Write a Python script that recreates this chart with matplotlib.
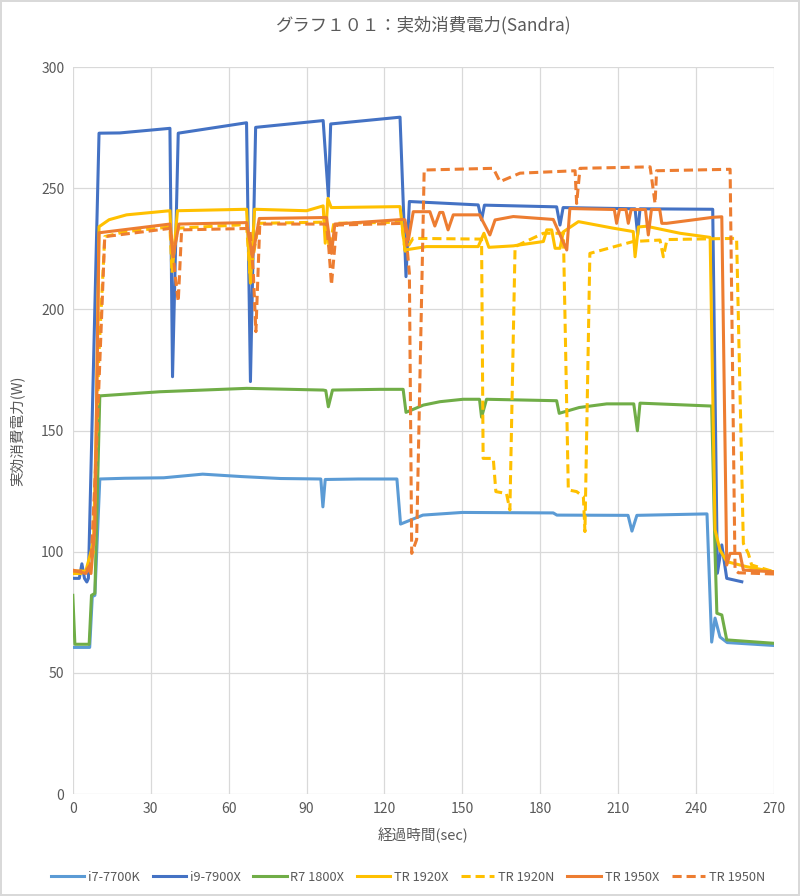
import matplotlib
matplotlib.use("Agg")
import matplotlib.pyplot as plt

plt.rcParams['font.family'] = ['Noto Sans CJK JP', 'DejaVu Sans']

# (sec, W) breakpoints
i7_7700k = [(0, 60.5), (6.5, 60.5), (7.5, 81.5), (8.5, 82), (10.4, 130), (20, 130.3),
            (35, 130.5), (50, 132), (65, 131), (80, 130.2), (95.5, 130), (96.3, 118.5),
            (97.2, 129.8), (110, 130), (124.8, 130), (126.2, 111.4), (134.8, 115.1),
            (150, 116.2), (185, 116), (186.4, 115.1), (213.8, 115), (215.3, 108.5),
            (217.2, 115), (244.2, 115.6), (246, 62.7), (247.3, 72.6), (249.2, 64.8),
            (252, 62.5), (270, 61.3)]

i9_7900x = [(0, 89), (2.5, 89), (3.5, 95), (4.5, 89), (5.4, 87.5), (6, 89), (10.1, 272.7),
            (18.1, 272.8), (37.4, 274.7), (38.4, 172.2), (40.6, 272.7), (66.9, 277),
            (68.4, 170.2), (70.4, 275.1), (96.4, 277.9), (98.4, 246.5), (99.3, 276.5),
            (126, 279.3), (128.3, 213.5), (129.6, 244.5), (156.1, 243.1), (157.4, 236.9),
            (158.5, 243), (186.3, 242.3), (187.6, 234.8), (188.8, 242), (216.5, 241.5),
            (217.5, 230.7), (218.4, 241.5), (246.4, 241.3), (248.2, 91.1), (249.9, 102.8),
            (251.8, 89), (257.6, 87.6)]

r7_1800x = [(0, 82), (0.8, 61.8), (6.3, 61.8), (7.2, 82), (8.5, 82.8), (10.4, 164.3),
            (33.5, 166), (66.9, 167.4), (96.4, 166.7), (97.4, 166.5), (98.4, 159.8),
            (100, 166.7), (118.3, 167), (127.2, 167), (128.3, 157.5), (135, 160.5),
            (141.4, 161.9), (150.3, 162.9), (156.6, 162.9), (157.4, 155.5), (159.3, 162.9),
            (186.3, 162.3), (187.3, 157.1), (195, 159.5), (205.6, 161), (216, 161),
            (217.4, 149.9), (218.4, 161.3), (246, 160.1), (247.3, 100), (248, 74.6),
            (249.9, 73.9), (251.8, 63.6), (270, 62.2)]

tr_1920x = [(0, 92), (5, 92), (7, 100), (8, 105), (9, 150), (10.1, 234.1), (14, 237),
            (20.7, 239), (37.4, 240.7), (38.4, 217), (40.3, 240.7), (66.9, 241.3),
            (68.4, 210.8), (70, 241.3), (90, 240.7), (96.4, 242.7), (97.2, 227.3),
            (98.2, 245.8), (99.5, 242), (126, 242.4), (127.9, 224.5), (136.2, 225.9),
            (156.1, 225.9), (158.3, 231.4), (160.2, 225.6), (169.6, 226.2), (181.2, 228),
            (182.5, 232.8), (184.4, 232.8), (185.7, 225.2), (187.6, 225.2), (188.9, 232),
            (194.7, 236.2), (208.1, 233.5), (215.8, 232.1), (216.5, 221.7), (217.8, 234),
            (220.9, 234.3), (233.8, 231.4), (245.4, 229.7), (247.3, 109), (249.2, 100.7),
            (251.8, 95.9), (259.5, 93.8), (270, 91.7)]

tr_1920n = [(0, 91), (5, 91), (8, 100), (10, 180), (12.3, 230), (20, 232), (37.4, 234),
            (38.2, 215), (39, 225), (40.6, 233.5), (66.9, 235), (68.2, 215), (69.5, 222),
            (71.5, 235.5), (97.5, 236), (98.8, 225), (100.5, 235.5), (126.5, 236),
            (128, 224), (131, 229.3), (156.1, 229), (157.4, 229), (158, 138.5),
            (161.9, 138.5), (162.9, 124.8), (167, 124), (168.3, 117.2), (170.3, 225.9),
            (181.2, 231.4), (188.9, 231.4), (190.8, 125.5), (194, 124.8), (196.6, 122.7),
            (197.2, 108.3), (199.1, 223.1), (215.8, 228), (226.1, 228.6), (227.4, 221.7),
            (228.8, 228.8), (255.6, 229.3), (258.2, 103.4), (260.1, 99.3), (261.4, 94.5),
            (270, 91.7)]

tr_1950x = [(0, 92.4), (5, 91), (6, 93), (7, 91), (8.5, 110), (10.1, 231.6), (37.4, 235.2),
            (38.6, 221.7), (40.9, 235.2), (66.9, 235.8), (69.2, 221.7), (71.8, 237.5),
            (97.7, 237.9), (99.6, 223.1), (100.9, 235.2), (127.2, 237.1), (127.9, 236.9),
            (129.2, 228.6), (131.1, 240.3), (137.5, 240.3), (139.4, 234.4), (141.3, 240),
            (142.5, 240), (144.5, 232.8), (146.5, 239), (156.6, 239), (160.6, 230.7),
            (162.6, 236.9), (169.6, 238.3), (185, 237.1), (190.2, 224.5), (191.4, 241.6),
            (208.5, 241.2), (209.4, 235.5), (210.5, 241.2), (213, 241.2), (213.9, 235.5),
            (215, 241.2), (220.5, 241.2), (221.6, 230.7), (222.8, 241.2), (226, 241.2),
            (226.8, 235.5), (228.7, 235.5), (246.6, 238), (249.9, 238.2), (251.8, 94.5),
            (253.1, 99.3), (256.9, 99.3), (258.2, 92.4), (270, 91.7)]

tr_1950n = [(0, 92), (5, 92), (7, 95), (9, 140), (12.3, 230), (37.4, 233.4), (38.5, 226),
            (39.3, 214.9), (40.6, 203.2), (41.9, 232.8), (68.2, 233.4), (69.5, 215),
            (70.5, 190.8), (72, 235.2), (97.7, 235.2), (98.6, 225), (99.6, 210.1),
            (101.6, 234.8), (127.9, 235.5), (129.6, 214.9), (130.5, 99.3), (132.4, 105),
            (135.3, 257.5), (161.9, 258.2), (164.5, 252.7), (172.2, 256.2), (193.4, 257.2),
            (194, 243.7), (195.3, 258.2), (222.3, 258.8), (224.2, 243.7), (224.8, 257.2),
            (253.1, 257.8), (255, 92.4), (256.3, 91.3), (270, 90.8)]

series = [
    ('i7-7700K', i7_7700k, '#5B9BD5', '-'),
    ('i9-7900X', i9_7900x, '#4472C4', '-'),
    ('R7 1800X', r7_1800x, '#70AD47', '-'),
    ('TR 1920X', tr_1920x, '#FFC000', '-'),
    ('TR 1920N', tr_1920n, '#FFC000', (0, (3, 1.6))),
    ('TR 1950X', tr_1950x, '#ED7D31', '-'),
    ('TR 1950N', tr_1950n, '#ED7D31', (0, (3, 1.6))),
]

fig = plt.figure(figsize=(8, 8.96), dpi=100)
fig.patch.set_edgecolor('#d9d9d9')
fig.patch.set_linewidth(1.5)
ax = fig.add_axes([0.091, 0.1138, 0.8765, 0.8114])

for name, pts, color, ls in series:
    xs = [p[0] for p in pts]
    ys = [p[1] for p in pts]
    ax.plot(xs, ys, color=color, linestyle=ls, linewidth=2.2, label=name)

ax.set_xlim(0, 270)
ax.set_ylim(0, 300)
ax.set_xticks(range(0, 271, 30))
ax.set_yticks(range(0, 301, 50))
ax.grid(True, color='#d9d9d9', linewidth=0.9)
ax.set_axisbelow(True)
for s in ax.spines.values():
    s.set_visible(False)
ax.tick_params(length=0, colors='#595959', labelsize=10, pad=6)

ax.set_title('グラフ１０１：実効消費電力(Sandra)', color='#595959', fontsize=12.5, pad=26)
ax.set_xlabel('経過時間(sec)', color='#595959', fontsize=10.5, labelpad=8)
ax.set_ylabel('実効消費電力(W)', color='#595959', fontsize=10.5, labelpad=12)

fig.legend(loc='center', bbox_to_anchor=(0.51, 0.021), ncol=7, frameon=False,
           fontsize=9.2, handlelength=2.6, columnspacing=1.0, handletextpad=0.3,
           labelcolor='#595959')

fig.savefig('out.png', dpi=100)
